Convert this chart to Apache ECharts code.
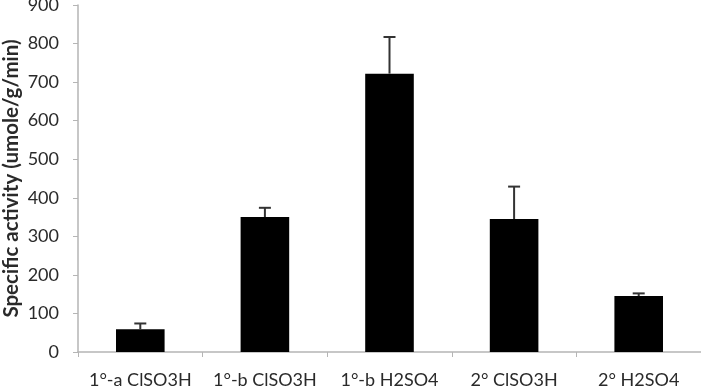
<!DOCTYPE html>
<html><head><meta charset="utf-8">
<script src="https://cdn.jsdelivr.net/npm/echarts@6/dist/echarts.min.js"></script>
<style>html,body{margin:0;padding:0;background:#fff}#c{width:701px;height:388px}</style>
</head><body><div id="c"></div>
<script>
const categories = ["1°-a ClSO3H", "1°-b ClSO3H", "1°-b H2SO4", "2° ClSO3H", "2° H2SO4"];
const values = [59, 350, 722, 345, 145];
const errors = [15, 24, 95, 84, 7];
const yTicks = [0, 900, 100];
const yName = "Specific activity (umole/g/min)";

const chart = echarts.init(document.getElementById('c'), null, {renderer: 'canvas'});
const font = 'Lato, "Open Sans", sans-serif';
chart.setOption({
  animation: false,
  grid: {left: 78, right: 0, top: 5, bottom: 36, containLabel: false, outerBoundsMode: 'none'},
  xAxis: {
    type: 'category', data: categories,
    axisLine: {lineStyle: {color: '#b5b5b5', width: 1.5}},
    axisTick: {show: true, length: 5, lineStyle: {color: '#b5b5b5'}},
    axisLabel: {color: '#2a2a2a', fontSize: 18, fontFamily: font, margin: 19, interval: 0, hideOverlap: false}
  },
  yAxis: {
    type: 'value', min: yTicks[0], max: yTicks[1], interval: yTicks[2],
    name: yName, nameLocation: 'middle', nameGap: 56, nameMoveOverlap: false,
    nameTextStyle: {fontSize: 20.5, fontWeight: 'bold', fontFamily: font, color: '#2a2a2a'},
    axisLine: {show: true, lineStyle: {color: '#b5b5b5', width: 1.5}},
    axisTick: {show: true, length: 5, lineStyle: {color: '#b5b5b5'}},
    splitLine: {show: false},
    axisLabel: {color: '#2a2a2a', fontSize: 18, fontFamily: font, margin: 19}
  },
  series: [{
    type: 'bar', data: values, barWidth: '39%',
    itemStyle: {color: '#000'}
  }, {
    type: 'custom',
    data: values.map((v, i) => [i, v, v + errors[i]]),
    renderItem: function (params, api) {
      const p0 = api.coord([api.value(0), api.value(1)]);
      const p1 = api.coord([api.value(0), api.value(2)]);
      const hw = 6;
      return {type: 'group', children: [
        {type: 'line', shape: {x1: p0[0], y1: p0[1], x2: p1[0], y2: p1[1]}, style: {stroke: '#333', lineWidth: 2}},
        {type: 'line', shape: {x1: p1[0] - hw, y1: p1[1], x2: p1[0] + hw, y2: p1[1]}, style: {stroke: '#333', lineWidth: 2}}
      ]};
    },
    z: 10
  }]
});
</script></body></html>
